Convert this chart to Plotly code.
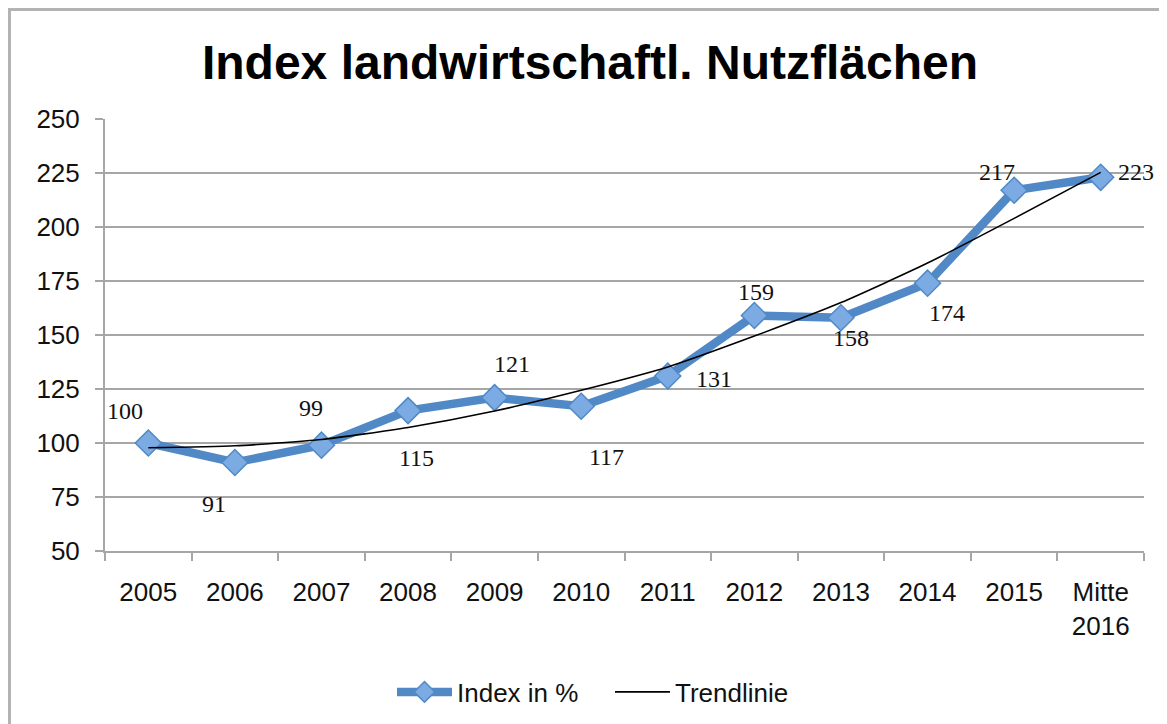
import plotly.graph_objects as go

categories = ["2005", "2006", "2007", "2008", "2009", "2010", "2011", "2012",
              "2013", "2014", "2015", "Mitte<br>2016"]
index_values = [100, 91, 99, 115, 121, 117, 131, 159, 158, 174, 217, 223]
trend_values = [97.8, 98.7, 101.6, 107.2, 114.8, 124.4, 135.2, 149.5, 165.0, 183.3, 204.0, 225.3]
y_ticks = [50, 75, 100, 125, 150, 175, 200, 225, 250]

# label offsets in pixels (dx, dy) relative to each point
label_dx = [-23, -21, -10, 8, 17, 25, 46, 2, 10, 19, -17, 35]
label_dy = [-32, 42, -37, 47, -34, 51, 3, -24, 20, 30, -18, -5]

OFF = 8  # page body margin
W, H = 1167 - OFF, 724 - OFF
L, R, T, B = 105 - OFF, 23, 119 - OFF, 173
pw, ph = W - L - R, H - T - B


def px_x(page_x):
    return (page_x - OFF - L) / pw


def px_y(page_y):
    return (H - B - (page_y - OFF)) / ph


fig = go.Figure()
fig.add_trace(go.Scatter(
    x=categories, y=index_values, name="Index in %", mode="lines+markers",
    line=dict(color="#5089c6", width=8.5),
    marker=dict(symbol="diamond", size=20, color="#7babe2",
                line=dict(color="#5089c6", width=1.5)),
))
fig.add_trace(go.Scatter(
    x=categories, y=trend_values, name="Trendlinie", mode="lines",
    line=dict(color="#000000", width=1.6, shape="spline", smoothing=0.6),
))

for i, (v, dx, dy) in enumerate(zip(index_values, label_dx, label_dy)):
    fig.add_annotation(x=i, y=v, xref="x", yref="y", text=str(v), showarrow=False,
                       xshift=dx, yshift=-dy,
                       font=dict(family="Liberation Serif", size=24, color="#111111"))

fig.add_shape(type="rect", xref="paper", yref="paper",
              x0=px_x(9.5), x1=px_x(1200),
              y0=px_y(760), y1=px_y(9.5),
              line=dict(color="#b3b3b3", width=3), layer="below")

fig.update_layout(
    width=W, height=H,
    margin=dict(l=L, r=R, t=T, b=B, autoexpand=False),
    paper_bgcolor="white", plot_bgcolor="white",
    title=dict(text="<b>Index landwirtschaftl. Nutzflächen</b>",
               x=(590 - OFF) / W, xanchor="center", y=1 - (62 - OFF) / H, yanchor="middle",
               font=dict(family="Liberation Sans", size=48, color="#000000")),
    font=dict(family="Liberation Sans", size=26, color="#111111"),
    showlegend=True,
    legend=dict(orientation="h", x=(392 - OFF) / W, xanchor="left", xref="container",
                y=1 - (692 - OFF) / H, yanchor="middle", yref="container",
                font=dict(family="Liberation Sans", size=26, color="#111111"),
                itemwidth=55, entrywidth=148, entrywidthmode="pixels",
                bgcolor="rgba(0,0,0,0)"),
)
fig.update_xaxes(
    type="category", range=[-0.5, len(categories) - 0.5], automargin=False,
    showline=True, linecolor="#a6a6a6", linewidth=2,
    ticks="outside", tickson="boundaries", ticklen=8, tickcolor="#a6a6a6", tickwidth=2,
    showgrid=False, ticklabelstandoff=17,
    tickfont=dict(family="Liberation Sans", size=26, color="#111111"),
)
fig.update_yaxes(
    range=[50, 250], tickvals=y_ticks, automargin=False,
    showline=True, linecolor="#a6a6a6", linewidth=2,
    ticks="outside", ticklen=8, tickcolor="#a6a6a6", tickwidth=2,
    showgrid=True, gridcolor="#a6a6a6", gridwidth=2, zeroline=False,
    ticklabelstandoff=10,
    tickfont=dict(family="Liberation Sans", size=26, color="#111111"),
)

fig.write_html("out.html")
